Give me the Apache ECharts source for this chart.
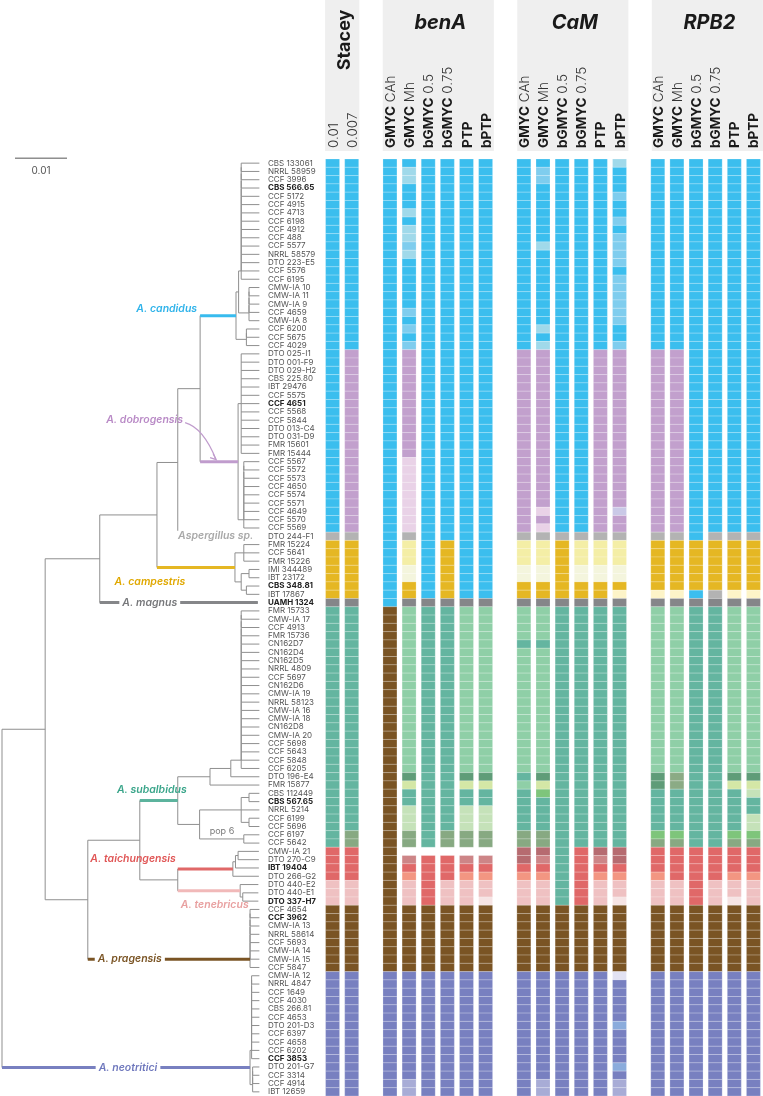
<!DOCTYPE html>
<html><head><meta charset="utf-8">
<script src="https://cdn.jsdelivr.net/npm/echarts@6/dist/echarts.min.js"></script>
<style>html,body{margin:0;padding:0;background:#fff}#c{width:763px;height:1096px}</style>
</head><body><div id="c"></div>
<script>
// ---------------- DATA ----------------
const taxa = ['CBS 133061','NRRL 58959','CCF 3996','CBS 566.65','CCF 5172','CCF 4915','CCF 4713','CCF 6198','CCF 4912','CCF 488','CCF 5577','NRRL 58579','DTO 223-E5','CCF 5576','CCF 6195','CMW-IA 10','CMW-IA 11','CMW-IA 9','CCF 4659','CMW-IA 8','CCF 6200','CCF 5675','CCF 4029',
'DTO 025-I1','DTO 001-F9','DTO 029-H2','CBS 225.80','IBT 29476','CCF 5575','CCF 4651','CCF 5568','CCF 5844','DTO 013-C4','DTO 031-D9','FMR 15601','FMR 15444','CCF 5567','CCF 5572','CCF 5573','CCF 4650','CCF 5574','CCF 5571','CCF 4649','CCF 5570','CCF 5569',
'DTO 244-F1','FMR 15224','CCF 5641','FMR 15226','IMI 344489','IBT 23172','CBS 348.81','IBT 17867','UAMH 1324',
'FMR 15733','CMW-IA 17','CCF 4913','FMR 15736','CN162D7','CN162D4','CN162D5','NRRL 4809','CCF 5697','CN162D6','CMW-IA 19','NRRL 58123','CMW-IA 16','CMW-IA 18','CN162D8','CMW-IA 20','CCF 5698','CCF 5643','CCF 5848','CCF 6205','DTO 196-E4','FMR 15877','CBS 112449','CBS 567.65','NRRL 5214','CCF 6199','CCF 5696','CCF 6197','CCF 5642',
'CMW-IA 21','DTO 270-C9','IBT 19404','DTO 266-G2','DTO 440-E2','DTO 440-E1','DTO 337-H7',
'CCF 4654','CCF 3962','CMW-IA 13','NRRL 58614','CCF 5693','CMW-IA 14','CMW-IA 15','CCF 5847',
'CMW-IA 12','NRRL 4847','CCF 1649','CCF 4030','CBS 266.81','CCF 4653','DTO 201-D3','CCF 6397','CCF 4658','CCF 6202','CCF 3853','DTO 201-G7','CCF 3314','CCF 4914','IBT 12659'];
const boldTaxa = ['CBS 566.65','CCF 4651','CBS 348.81','UAMH 1324','CBS 567.65','IBT 19404','DTO 337-H7','CCF 3962','CCF 3853'];

const geneHeaders = ['Stacey','benA','CaM','RPB2'];
const columnLabels = ['0.01','0.007','',
  'GMYC CAh','GMYC Mh','bGMYC 0.5','bGMYC 0.75','PTP','bPTP','',
  'GMYC CAh','GMYC Mh','bGMYC 0.5','bGMYC 0.75','PTP','bPTP','',
  'GMYC CAh','GMYC Mh','bGMYC 0.5','bGMYC 0.75','PTP','bPTP'];

// colour codes of delimited groups
const palette = {B:'#3bbeee',Bl:'#a0d9ea',Bm:'#7fcdee',P:'#c2a0cd',Pl:'#e9d2e7',Pv:'#cac9e7',G:'#b3b3b3',
  Y:'#e5b723',Yl:'#f4eea6',Yc:'#f4f5dd',Yw:'#fdf4c8',D:'#858689',
  T:'#64b5a0',Tl:'#8fcfa7',Td:'#5f9c78',Og:'#8bab85',Lg:'#d4e7a6',Gg:'#7ec57b',Gl:'#c5e2b9',O:'#87a982',
  R:'#e06868',Rd:'#b66b70',Rm:'#cd8587',Ro:'#f39682',Rl:'#efc1c2',Rw:'#f6e4e4',
  Br:'#7a5424',V:'#7880c0',Vl:'#a8acd6',Vb:'#8bacdc',Vw:'#e2e2f2'};

// run-length encoded delimitation per column (code + number of rows, X = no data)
const staceyA  = 'B45 G1 Y7 D1 T29 R4 Rl3 Br8 V15';
const staceyB  = 'B23 P22 G1 Y7 D1 T27 O2 R4 Rl3 Br8 V15';
const benA_CAh = 'B54 Br44 V15';
const benA_Mh  = 'B1 Bl2 B3 Bl1 B1 Bl2 Bm1 Bl1 B6 Bm1 B1 Bm1 B1 Bm1 P13 Pl9 G1 Yl3 Yc2 Y2 D1 Tl20 Td1 Lg1 T2 Gl3 O2 X1 Rm1 R1 Ro1 Rl3 Br8 V13 Vl2';
const benA_b05 = 'B53 D1 T29 X1 R6 Br8 V15';
const benA_b075= 'B46 Y7 D1 T27 O2 X1 R3 Rl3 Br8 V15';
const benA_PTP = 'B53 D1 Tl20 Td1 Lg1 T2 Gl3 O2 X1 Rm1 R1 Ro1 Rl3 Br8 V15';
const benA_bPTP= 'B53 D1 Tl20 Td1 Lg1 T2 Gl3 O2 X1 Rm1 R1 Ro1 Rl2 Rw1 Br8 V15';
const CaM_CAh  = 'B23 P22 G1 Yl3 Yc2 Y2 D1 Tl4 T1 Tl15 T1 Tl1 T5 O2 Rd2 R1 Ro1 Rl3 Br8 V15';
const CaM_Mh   = 'B1 Bm2 B7 Bl1 B9 Bl1 B1 Bl1 P19 Pl1 P1 Pl1 G1 Yl3 Yc2 Y2 D1 Tl4 T1 Tl15 Td1 Lg1 Gg1 T4 O2 Rd1 Rm1 R1 Ro1 Rl3 Br8 V13 Vl2';
const CaM_b05  = 'B45 G1 Y7 D1 T36 Br8 V15';
const CaM_b075 = 'B45 G1 Yl3 Yc2 Y2 D1 T29 R7 Br8 V15';
const CaM_PTP  = 'B23 P22 G1 Yl3 Yc2 Y2 D1 T29 Rd1 Rm1 R1 Ro1 Rl3 Br8 V15';
const CaM_bPTP = 'Bl1 B3 Bm1 B2 Bm1 B1 Bm4 B1 Bm6 B2 Bm1 P19 Pv1 P2 G1 Yl3 Yc2 Y1 Yw1 D1 T29 Rd2 R1 Ro1 Rl2 Rw1 Br8 Vw1 V5 Vb1 V4 Vb1 V1 Vl2';
const RPB2_CAh = 'B23 P22 G1 Y6 Yw1 D1 Tl20 Td2 T5 Gg1 O1 R3 Ro1 Rl3 Br8 V15';
const RPB2_Mh  = 'B23 P22 G1 Y6 Yw1 D1 Tl20 Og2 T5 Gg1 O1 R4 Rl3 Br8 V15';
const RPB2_b05 = 'B46 Y6 B1 D1 T29 R7 Br8 V15';
const RPB2_b075= 'B45 G1 Y6 G1 D1 T29 R4 Rl3 Br8 V15';
const RPB2_PTP = 'B45 G1 Y6 Yw1 D1 Tl20 Td1 Lg1 T5 Gg1 O1 R3 Ro1 Rl2 Rw1 Br8 V15';
const RPB2_bPTP= 'B45 G1 Y6 Yw1 D1 Tl20 Td1 Lg1 Gl1 T2 Gl2 Gg1 O1 R3 Ro1 Rl3 Br8 V15';
const columnRuns = [staceyA, staceyB, null, benA_CAh, benA_Mh, benA_b05, benA_b075, benA_PTP, benA_bPTP, null,
  CaM_CAh, CaM_Mh, CaM_b05, CaM_b075, CaM_PTP, CaM_bPTP, null, RPB2_CAh, RPB2_Mh, RPB2_b05, RPB2_b075, RPB2_PTP, RPB2_bPTP];

// phylogeny (Newick; tips = row index, branch lengths in 0.001 substitutions/site)
const combCand1 = '((((((((((((((0:3.5,1:3.5):0,2:3.5):0,3:3.5):0,4:3.5):0,5:3.5):0,6:3.5):0,7:3.5):0,8:3.5):0,9:3.5):0,10:3.5):0,11:3.5):0,12:3.5):0,13:3.5):0,14:3.5)';
const combCand2 = '((((15:2,16:2):0,17:2):0,18:2):0,19:2)';
const combCand3 = '((20:2.5,21:2.5):0,22:2.5)';
const cladeCandidus = '((' + combCand1 + ':0.5,' + combCand2 + ':2):0.5,' + combCand3 + ':2)candidus:6.9';
const combDob1 = '(23:3.5,24:3.5,25:3.5,26:3.5,27:3.5,28:3.5,29:3.5,30:3.5,31:3.5,32:3.5,33:3.5,34:3.5,35:3.5)';
const combDob2 = '((((((((36:3,37:3):0,38:3):0,39:3):0,40:3):0,41:3):0,42:3):0,43:3):0,44:3)';
const cladeDobrogensis = '(' + combDob1 + ':0.6,' + combDob2 + ':1.1)dobrogensis:7.3';
const cladeCampestris = '((46:3,47:3,48:3):1.7,((49:2,50:2):1.5,(51:2.5,52:2.5):1):1.2)campestris:15';
const combSub1 = '(((((((((((((((((((54:3.5,55:3.5):0,56:3.5):0,57:3.5):0,58:3.5):0,59:3.5):0,60:3.5):0,61:3.5):0,62:3.5):0,63:3.5):0,64:3.5):0,65:3.5):0,66:3.5):0,67:3.5):0,68:3.5):0,69:3.5):0,70:3.5):0,71:3.5):0,72:3.5):0,73:3.5)';
const cladeSubalbidus = '(((' + combSub1 + ':2,74:5.5):4,75:9.5):6.2,(((76:2,77:2):1.5,78:3.5,(79:2,80:2):1.5):8,(81:3,82:3):8.5):4.2)subalbidus:7.3';
const cladeTaichungensis = '(((83:4,84:4):0.5,85:4.5):0.5,86:5)taichungensis:10.6';
const cladeTenebricus = '(87:3.5,(88:3,89:3):0.5)tenebricus:12';
const cladePragensis = '(((((((90:1.8,91:1.8):0,92:1.8):0,93:1.8):0,94:1.8):0,95:1.8):0,96:1.8):0,97:1.8)pragensis:31.2';
const cladeNeotritici = '((((((((((((98:1.5,99:1.5):0,100:1.5):0,101:1.5):0,102:1.5):0,103:1.5):0,104:1.5):0,105:1.5):0,106:1.5):0,107:1.5):0,108:1.5):0.3,(((109:1.3,110:1.3):0,111:1.3):0,112:1.3):0.5)neotritici:47.7';
const treeNewick = '((((((' + cladeCandidus + ',' + cladeDobrogensis + '):4.3,45:14.9):4,' + cladeCampestris + '):11,53:30.4):10.5,' +
  '((' + cladeSubalbidus + ',(' + cladeTaichungensis + ',' + cladeTenebricus + '):7.3):10,' + cladePragensis + '):8.2):8.3,' + cladeNeotritici + ');';

const speciesNode  = ['candidus','dobrogensis','45','campestris','53','subalbidus','taichungensis','tenebricus','pragensis','neotritici'];
const speciesLabel = ['A. candidus','A. dobrogensis','Aspergillus sp.','A. campestris','A. magnus','A. subalbidus','A. taichungensis','A. tenebricus','A. pragensis','A. neotritici'];
const speciesColor = ['#38bbee','#c09ccd','#b0b0b0','#e5b723','#858689','#5cb39d','#e06868','#f1b9b9','#7a5424','#7880c0'];
const speciesText  = ['#2fb3ea','#b98ac6','#a9a9a9','#e0a800','#77787b','#3aa58a','#e05656','#e8a0a0','#7a5424','#6f78bd'];
const scaleBar = {value: 10, label: '0.01'};
const popLabel = {text: 'pop 6', row: 80.6, depth: 42.3};

// ---------------- LAYOUT / STYLE ----------------
const FONT = 'Inter, "Open Sans", sans-serif';
const rowTop = 159, rowsH = 937;
const treeLeft = 2, treeW = 262, pxPerUnit = 5.2;
const cellLeft = 323, cellW = 442;
// label placement: [mode, dx, dy]
const speciesPlace = [['left',-3,-7],['arrow',-17,-42],['line',38,0],['center',-7,14],['line',50,0],['center',12,-11],['left',-2,-10],['center',37,14],['line',42,0],['line',126,0]];

// ---------------- helpers ----------------
function parseNewick(s){
  s = s.replace(/\s+/g,''); let i = 0;
  function node(){
    const n = {children:[]};
    if (s[i] === '('){ i++; n.children.push(node()); while (s[i] === ','){ i++; n.children.push(node()); } i++; }
    let name=''; while (i < s.length && !':,();'.includes(s[i])) name += s[i++];
    n.name = name; n.len = 0;
    if (s[i] === ':'){ i++; let num=''; while (i < s.length && !',();'.includes(s[i])) num += s[i++]; n.len = parseFloat(num); }
    return n;
  }
  return node();
}
const tree = parseNewick(treeNewick);
const hSegs = [], vSegs = [], nodeById = {};
(function layout(n, parentDepth){
  n.depth = parentDepth + n.len; n.pdepth = parentDepth;
  if (n.children.length){
    n.children.forEach(c => layout(c, n.depth));
    const ys = n.children.map(c => c.y);
    n.y = (ys[0] + ys[ys.length-1]) / 2;
    vSegs.push([n.depth, Math.min(...ys), Math.max(...ys)]);
  } else n.y = Number(n.name);
  if (n.name) nodeById[n.name] = n;
  if (n.len > 0) hSegs.push([n.pdepth, n.depth, n.y]);
})(tree, 0);

function decodeRuns(str){
  const out = [];
  str.split(' ').forEach(tok => { const m = tok.match(/^([A-Za-z]+)(\d+)$/); for (let k=0;k<+m[2];k++) out.push(m[1]); });
  return out;
}
const cellData = [], cellCodes = [];
columnRuns.forEach((r, ci) => {
  if (!r) return;
  decodeRuns(r).forEach((code, ri) => { if (code !== 'X'){ cellData.push([ci, ri]); cellCodes.push(code); } });
});

function colLabelRich(t){
  if (!t) return '';
  if (/^\d/.test(t)) return '{r|' + t + '}';
  const parts = t.split(' ');
  return '{b|' + parts[0] + '}' + (parts[1] ? '{r| ' + parts[1] + '}' : '');
}
const colLabelData = columnLabels.map((t, i) => [i]).filter((d) => columnLabels[d[0]]);

const speciesData = speciesNode.map((id, k) => { const n = nodeById[id]; return [n.pdepth, n.depth, n.y, k]; });

// header boxes computed from column slots
const slotW = cellW / columnLabels.length;
const groups = [[0,1],[3,8],[10,15],[17,22]];

const chart = echarts.init(document.getElementById('c'), null, {renderer:'canvas'});
const graphics = [];
groups.forEach((g, k) => {
  const x0 = cellLeft + g[0]*slotW + (slotW-14)/2 - 0.5;
  const x1 = cellLeft + g[1]*slotW + (slotW+14)/2 + 0.5;
  graphics.push({type:'rect', z:-10, shape:{x:x0, y:0, width:x1-x0, height:151}, style:{fill:'#efefef'}});
  if (k === 0){
    graphics.push({type:'text', x:(x0+x1)/2+2, y:40, rotation:Math.PI/2, style:{text:geneHeaders[k], fill:'#1a1a1a', font:'bold 18px '+FONT, textAlign:'center', textVerticalAlign:'middle'}});
  } else {
    graphics.push({type:'text', x:(x0+x1)/2+2, y:23, style:{text:geneHeaders[k], fill:'#1a1a1a', font:'italic bold 20px '+FONT, textAlign:'center', textVerticalAlign:'middle'}});
  }
});

const option = {
  animation:false,
  graphic: graphics,
  grid:[
    {left:treeLeft, top:rowTop, width:treeW, height:rowsH},
    {left:cellLeft, top:rowTop, width:cellW, height:rowsH}
  ],
  xAxis:[
    {type:'value', gridIndex:0, min:0, max:treeW/pxPerUnit, show:false},
    {type:'category', gridIndex:1, data:columnLabels.map((_,i)=>String(i)), show:false}
  ],
  yAxis:[
    {type:'value', gridIndex:0, min:-0.5, max:taxa.length-0.5, inverse:true, show:false},
    {type:'category', gridIndex:0, data:taxa, inverse:true, position:'right',
      axisLine:{show:false}, axisTick:{show:false},
      axisLabel:{interval:0, margin:4, fontSize:8, color:'#555', fontFamily:FONT,
        formatter: v => boldTaxa.includes(v) ? '{b|'+v+'}' : v,
        rich:{b:{fontWeight:'bold', fontSize:8, color:'#222', fontFamily:FONT}}}},
    {type:'category', gridIndex:1, data:taxa, inverse:true, show:false}
  ],
  series:[
    {type:'custom', xAxisIndex:0, yAxisIndex:0, data:hSegs, silent:true,
      renderItem:(p, api) => {
        const a = api.coord([api.value(0), api.value(2)]), b = api.coord([api.value(1), api.value(2)]);
        return {type:'line', shape:{x1:a[0], y1:a[1], x2:b[0], y2:b[1]}, style:{stroke:'#8f8f8f', lineWidth:1}};
      }},
    {type:'custom', xAxisIndex:0, yAxisIndex:0, data:vSegs, silent:true,
      renderItem:(p, api) => {
        const a = api.coord([api.value(0), api.value(1)]), b = api.coord([api.value(0), api.value(2)]);
        return {type:'line', shape:{x1:a[0], y1:a[1], x2:b[0], y2:b[1]}, style:{stroke:'#8f8f8f', lineWidth:1}};
      }},
    {type:'custom', xAxisIndex:0, yAxisIndex:0, data:speciesData, silent:true, z:5,
      renderItem:(p, api) => {
        const k = api.value(3);
        const a = api.coord([api.value(0), api.value(2)]), b = api.coord([api.value(1), api.value(2)]);
        const pl = speciesPlace[k];
        const children = [{type:'line', shape:{x1:a[0], y1:a[1], x2:b[0], y2:b[1]}, style:{stroke:speciesColor[k], lineWidth:3}}];
        const ts = {text:speciesLabel[k], fill:speciesText[k], font:'italic 600 10.5px '+FONT, textVerticalAlign:'middle'};
        if (pl[0] === 'left'){ ts.textAlign='right'; children.push({type:'text', x:a[0]+pl[1], y:a[1]+pl[2], style:ts}); }
        else if (pl[0] === 'center'){ ts.textAlign='center'; children.push({type:'text', x:a[0]+pl[1], y:a[1]+pl[2], style:ts}); }
        else if (pl[0] === 'line'){ ts.textAlign='center'; ts.backgroundColor='#fff'; ts.padding=[0,3]; children.push({type:'text', x:a[0]+pl[1], y:a[1]+pl[2], style:ts}); }
        else if (pl[0] === 'arrow'){
          ts.textAlign='right'; const tx=a[0]+pl[1], ty=a[1]+pl[2];
          children.push({type:'text', x:tx, y:ty, style:ts});
          const ex=a[0]+16, ey=a[1]-2;
          children.push({type:'bezierCurve', shape:{x1:tx+2, y1:ty+3, cpx1:tx+20, cpy1:ty+8, x2:ex, y2:ey}, style:{stroke:speciesColor[k], lineWidth:1.2, fill:null}});
          children.push({type:'polyline', shape:{points:[[ex-6,ey-2],[ex,ey],[ex-3,ey-6]]}, style:{stroke:speciesColor[k], lineWidth:1.2, fill:null}});
        }
        return {type:'group', children};
      }},
    {type:'custom', xAxisIndex:0, yAxisIndex:0, data:[[popLabel.depth, popLabel.row]], silent:true,
      renderItem:(p, api) => {
        const a = api.coord([api.value(0), api.value(1)]);
        return {type:'text', x:a[0], y:a[1], style:{text:popLabel.text, fill:'#777', font:'9px '+FONT, textAlign:'center', textVerticalAlign:'middle'}};
      }},
    {type:'custom', xAxisIndex:0, yAxisIndex:0, data:[[2.5, 2.5+scaleBar.value]], silent:true,
      renderItem:(p, api) => {
        const a = api.coord([api.value(0), -0.6]), b = api.coord([api.value(1), -0.6]);
        return {type:'group', children:[
          {type:'line', shape:{x1:a[0], y1:a[1], x2:b[0], y2:b[1]}, style:{stroke:'#555', lineWidth:1}},
          {type:'text', x:(a[0]+b[0])/2, y:a[1]+13, style:{text:scaleBar.label, fill:'#555', font:'10px '+FONT, textAlign:'center', textVerticalAlign:'middle'}}
        ]};
      }},
    {type:'custom', xAxisIndex:1, yAxisIndex:2, data:colLabelData, silent:true,
      renderItem:(p, api) => {
        const c = api.coord([api.value(0), 0]);
        return {type:'text', x:c[0]+1, y:rowTop-11, rotation:Math.PI/2,
          style:{text:colLabelRich(columnLabels[api.value(0)]), textAlign:'left', textVerticalAlign:'middle',
            rich:{b:{fontWeight:'bold', fontSize:13.5, fontFamily:FONT, fill:'#1a1a1a'}, r:{fontSize:13.5, fontFamily:FONT, fill:'#333', fontWeight:300}}}};
      }},
    {type:'custom', xAxisIndex:1, yAxisIndex:2, data:cellData, silent:true,
      renderItem:(p, api) => {
        const c = api.coord([api.value(0), api.value(1)]), s = api.size([1,1]);
        return {type:'rect', shape:{x:c[0]-7, y:c[1]-s[1]/2, width:14, height:s[1]},
          style:{fill:palette[cellCodes[p.dataIndex]], stroke:'rgba(255,255,255,0.3)', lineWidth:0.7}};
      }}
  ]
};
chart.setOption(option);
</script></body></html>
